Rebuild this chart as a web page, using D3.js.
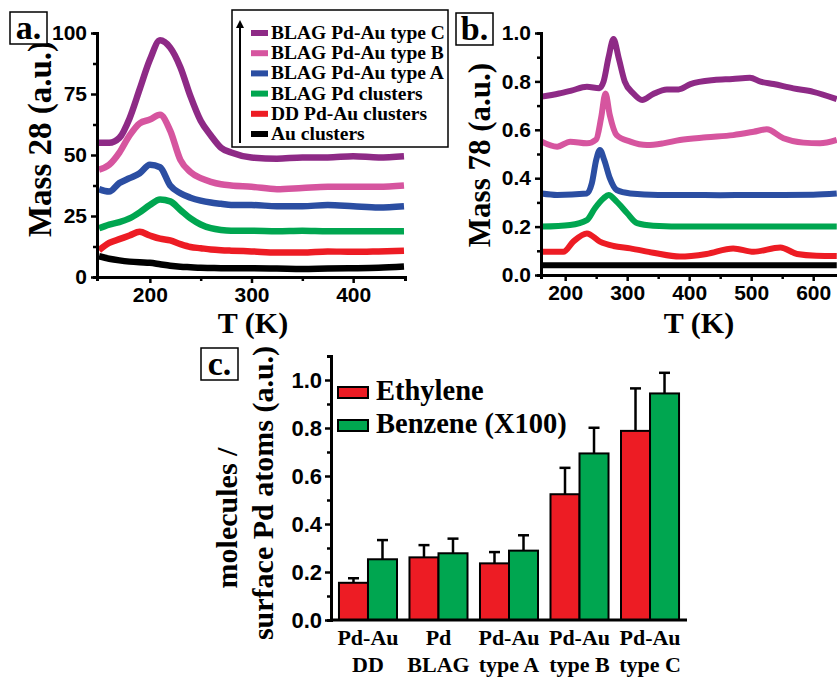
<!DOCTYPE html>
<html lang="en">
<head>
<meta charset="UTF-8">
<title>Mass 28 / Mass 78 TPD and uptake</title>
<script src="https://d3js.org/d3.v7.min.js"></script>
<style>
    body { margin: 0; background: #fff; }
    svg { display: block; }
    .serif { font-family: "Liberation Serif", "Times New Roman", serif; font-weight: bold; }
    .tick text { font-family: "Liberation Sans", Arial, sans-serif; font-weight: bold; }
</style>
</head>
<body>
<script>
// ---- panel a: mass 28 (a.u.) vs T (K)
var tempA = [150, 160, 170, 180, 190, 200, 210, 220, 230, 240, 250, 260, 270, 280, 300, 325, 350, 375, 400, 425, 450];
var m28TypeC = [55, 55, 57, 65, 77, 89, 97, 94, 86, 74, 64, 58, 53, 51, 49, 48.5, 49, 49, 49.5, 49, 49.5];
var m28TypeB = [44, 46, 51, 58, 63, 64.5, 66.5, 60, 48, 43, 40.5, 39, 38, 37.5, 37, 36, 36.5, 37, 37, 37, 37.5];
var m28TypeA = [36, 35, 38.5, 40.5, 42.5, 46, 45, 37.5, 34.3, 32.5, 31.3, 30.5, 30, 29.5, 29.5, 29, 29, 29.5, 29, 28.5, 29];
var m28Pd = [20, 21.5, 22.5, 24, 26.5, 29.5, 31.8, 31, 27.5, 24, 21.5, 20, 19.3, 19, 19, 18.8, 19, 18.8, 18.8, 18.7, 18.8];
var m28DD = [11, 14, 15.5, 17, 18.5, 17, 15.7, 15, 13.5, 12.3, 11.8, 11.3, 11, 10.8, 10.5, 10, 10, 10.5, 10.3, 10.5, 10.8];
var m28Au = [8.5, 7.5, 6.8, 6.3, 6, 5.8, 5.2, 4.6, 4.2, 4, 3.8, 3.7, 3.6, 3.6, 3.6, 3.5, 3.3, 3.5, 3.6, 3.8, 4.3];

// ---- panel b: mass 78 (a.u.) vs T (K)
var tempBC = [162, 190, 210, 235, 255, 262, 270, 278, 286, 296, 310, 324, 342, 364, 383, 402, 440, 470, 498, 515, 536, 568, 600, 638];
var m78TypeC = [0.737, 0.75, 0.762, 0.778, 0.772, 0.80, 0.90, 0.975, 0.90, 0.80, 0.75, 0.723, 0.748, 0.767, 0.767, 0.789, 0.806, 0.81, 0.815, 0.799, 0.789, 0.771, 0.757, 0.727];
var tempBB = [162, 187, 208, 235, 250, 258, 265, 272, 283, 305, 332, 358, 385, 428, 471, 504, 525, 552, 584, 611, 638];
var m78TypeB = [0.551, 0.53, 0.551, 0.544, 0.56, 0.65, 0.75, 0.66, 0.578, 0.551, 0.537, 0.544, 0.558, 0.569, 0.578, 0.592, 0.602, 0.565, 0.547, 0.544, 0.558];
var tempBA = [162, 187, 235, 243, 250, 256, 263, 272, 283, 305, 350, 400, 450, 500, 550, 600, 638];
var m78TypeA = [0.337, 0.331, 0.337, 0.379, 0.475, 0.517, 0.475, 0.40, 0.351, 0.337, 0.331, 0.331, 0.33, 0.331, 0.331, 0.332, 0.337];
var tempBPd = [162, 208, 235, 248, 262, 270, 283, 300, 316, 342, 400, 450, 500, 550, 600, 638];
var m78Pd = [0.20, 0.207, 0.227, 0.276, 0.317, 0.331, 0.303, 0.255, 0.214, 0.204, 0.2, 0.2, 0.2, 0.2, 0.2, 0.2];
var tempBDD = [162, 197, 213, 235, 256, 278, 305, 342, 385, 428, 471, 504, 547, 574, 605, 638];
var m78DD = [0.096, 0.096, 0.138, 0.172, 0.138, 0.12, 0.11, 0.092, 0.076, 0.087, 0.11, 0.096, 0.114, 0.087, 0.08, 0.079];
var tempBAu = [162, 300, 450, 638];
var m78Au = [0.04, 0.04, 0.04, 0.04];

var seriesNames = ["BLAG Pd-Au type C", "BLAG Pd-Au type B", "BLAG Pd-Au type A", "BLAG Pd clusters", "DD Pd-Au clusters", "Au clusters"];
var seriesColors = ["#8e2a86", "#d6559f", "#2b4ea2", "#00a650", "#ed1c24", "#000000"];

// ---- panel c: molecules / surface Pd atoms
var catLine1 = ["Pd-Au", "Pd", "Pd-Au", "Pd-Au", "Pd-Au"];
var catLine2 = ["DD", "BLAG", "type A", "type B", "type C"];
var ethylene = [0.155, 0.261, 0.236, 0.524, 0.788];
var ethyleneErr = [0.019, 0.051, 0.047, 0.11, 0.177];
var benzene = [0.253, 0.278, 0.289, 0.694, 0.944];
var benzeneErr = [0.08, 0.061, 0.064, 0.107, 0.086];

var width = 837, height = 677;
var svg = d3.select("body").append("svg").attr("width", width).attr("height", height);

function pairs(xs, ys) {
    return xs.map(function (x, i) { return [x, ys[i]]; });
}

function styleAxis(g, fontSize) {
    g.select(".domain").attr("stroke", "#000").attr("stroke-width", 3);
    g.selectAll(".tick line").attr("stroke", "#000").attr("stroke-width", 2.5);
    g.selectAll(".tick text").attr("fill", "#000").style("font-size", fontSize + "px");
}

function panelLabel(x, y, txt) {
    svg.append("rect").attr("x", x).attr("y", y).attr("width", 37).attr("height", 32)
        .attr("fill", "#fff").attr("stroke", "#000").attr("stroke-width", 1.5);
    svg.append("text").attr("class", "serif").attr("x", x + 18.5).attr("y", y + 27)
        .attr("text-anchor", "middle").style("font-size", "34px").text(txt);
}

function lineChart(opt) {
    var x = d3.scaleLinear().domain(opt.xDomain).range(opt.xRange);
    var y = d3.scaleLinear().domain(opt.yDomain).range(opt.yRange);
    var line = d3.line().curve(d3.curveMonotoneX)
        .x(function (d) { return x(d[0]); })
        .y(function (d) { return y(d[1]); });

    opt.series.forEach(function (s, i) {
        svg.append("path").datum(s).attr("fill", "none")
            .attr("stroke", seriesColors[i]).attr("stroke-width", opt.lineWidth)
            .attr("stroke-linejoin", "round").attr("d", line);
    });

    var yMinor = svg.append("g").attr("transform", "translate(" + opt.xRange[0] + ",0)")
        .call(d3.axisLeft(y).tickValues(opt.yMinor).tickSize(4).tickFormat(""));
    styleAxis(yMinor, 21);
    var yAx = svg.append("g").attr("transform", "translate(" + opt.xRange[0] + ",0)")
        .call(d3.axisLeft(y).tickValues(opt.yTicks).tickSize(6).tickSizeOuter(0).tickPadding(4).tickFormat(opt.yFormat));
    styleAxis(yAx, 21);

    var xMinor = svg.append("g").attr("transform", "translate(0," + opt.yRange[0] + ")")
        .call(d3.axisBottom(x).tickValues(opt.xMinor).tickSize(4).tickFormat(""));
    styleAxis(xMinor, 21);
    var xAx = svg.append("g").attr("transform", "translate(0," + opt.yRange[0] + ")")
        .call(d3.axisBottom(x).tickValues(opt.xTicks).tickSize(6).tickSizeOuter(0).tickPadding(4));
    styleAxis(xAx, 21);

    svg.append("text").attr("class", "serif")
        .attr("transform", "translate(" + opt.yLabelX + "," + opt.yLabelY + ") rotate(-90)")
        .attr("text-anchor", "middle").style("font-size", opt.yLabelSize + "px").text(opt.yLabel);
    svg.append("text").attr("class", "serif").attr("x", opt.xLabelX).attr("y", 333)
        .attr("text-anchor", "middle").style("font-size", "30px").text("T (K)");
}

// panel a
lineChart({
    xDomain: [148, 451], xRange: [97, 405],
    yDomain: [0, 100], yRange: [277, 33],
    xTicks: [200, 300, 400], xMinor: [250, 350],
    yTicks: [0, 25, 50, 75, 100], yMinor: [12.5, 37.5, 62.5, 87.5],
    yFormat: d3.format("d"),
    lineWidth: 6.5,
    series: [pairs(tempA, m28TypeC), pairs(tempA, m28TypeB), pairs(tempA, m28TypeA),
             pairs(tempA, m28Pd), pairs(tempA, m28DD), pairs(tempA, m28Au)],
    yLabel: "Mass 28 (a.u.)", yLabelX: 51, yLabelY: 139, yLabelSize: 33,
    xLabelX: 253
});

// panel b
lineChart({
    xDomain: [161, 640], xRange: [541, 838],
    yDomain: [0, 1], yRange: [275, 33],
    xTicks: [200, 300, 400, 500, 600], xMinor: [250, 350, 450, 550],
    yTicks: [0, 0.2, 0.4, 0.6, 0.8, 1.0], yMinor: [0.1, 0.3, 0.5, 0.7, 0.9],
    yFormat: d3.format(".1f"),
    lineWidth: 6,
    series: [pairs(tempBC, m78TypeC), pairs(tempBB, m78TypeB), pairs(tempBA, m78TypeA),
             pairs(tempBPd, m78Pd), pairs(tempBDD, m78DD), pairs(tempBAu, m78Au)],
    yLabel: "Mass 78 (a.u.)", yLabelX: 490, yLabelY: 155, yLabelSize: 31,
    xLabelX: 699
});

panelLabel(10, 12, "a.");
panelLabel(456, 13, "b.");
panelLabel(201, 348, "c.");

// legend of panel a
var lg = svg.append("g");
lg.append("rect").attr("x", 232).attr("y", 10).attr("width", 216).attr("height", 137)
    .attr("fill", "#fff").attr("stroke", "#000").attr("stroke-width", 1.5);
svg.append("defs").append("marker").attr("id", "arrow").attr("viewBox", "0 0 10 10")
    .attr("refX", 5).attr("refY", 5).attr("markerWidth", 4).attr("markerHeight", 5)
    .attr("orient", "auto").append("path").attr("d", "M0,0L10,5L0,10Z").attr("fill", "#000");
lg.append("line").attr("x1", 240).attr("y1", 143).attr("x2", 240).attr("y2", 24)
    .attr("stroke", "#000").attr("stroke-width", 2).attr("marker-end", "url(#arrow)");
seriesNames.forEach(function (name, i) {
    var cy = 33 + i * 20.2;
    lg.append("rect").attr("x", 251).attr("y", cy - 3).attr("width", 17).attr("height", 6)
        .attr("fill", seriesColors[i]);
    lg.append("text").attr("class", "serif").attr("x", 271).attr("y", cy + 6)
        .style("font-size", "19.5px").text(name);
});

// panel c: grouped bars
var yc = d3.scaleLinear().domain([0, 1.1]).range([620, 356]);
var xc = d3.scaleBand().domain(d3.range(catLine1.length)).range([331, 687]).paddingInner(0.177).paddingOuter(0.113);
var xSub = d3.scaleBand().domain([0, 1]).range([0, xc.bandwidth()]);
var barSeries = [
    { values: ethylene, err: ethyleneErr, color: "#ed1c24", name: "Ethylene" },
    { values: benzene, err: benzeneErr, color: "#00a650", name: "Benzene (X100)" }
];

barSeries.forEach(function (s, k) {
    var g = svg.append("g");
    s.values.forEach(function (v, i) {
        var bx = xc(i) + xSub(k);
        var cx = bx + xSub.bandwidth() / 2;
        g.append("line").attr("x1", cx).attr("x2", cx).attr("y1", yc(v)).attr("y2", yc(v + s.err[i]))
            .attr("stroke", "#000").attr("stroke-width", 2.5);
        g.append("line").attr("x1", cx - 5.5).attr("x2", cx + 5.5).attr("y1", yc(v + s.err[i])).attr("y2", yc(v + s.err[i]))
            .attr("stroke", "#000").attr("stroke-width", 2.5);
        g.append("rect").attr("x", bx).attr("y", yc(v)).attr("width", xSub.bandwidth()).attr("height", yc(0) - yc(v))
            .attr("fill", s.color).attr("stroke", "#000").attr("stroke-width", 2);
    });
});

var ycMinor = svg.append("g").attr("transform", "translate(331,0)")
    .call(d3.axisLeft(yc).tickValues([0.1, 0.3, 0.5, 0.7, 0.9]).tickSize(4).tickFormat(""));
styleAxis(ycMinor, 22);
var ycAx = svg.append("g").attr("transform", "translate(331,0)")
    .call(d3.axisLeft(yc).tickValues([0, 0.2, 0.4, 0.6, 0.8, 1.0]).tickSize(6).tickSizeOuter(0).tickPadding(3).tickFormat(d3.format(".1f")));
styleAxis(ycAx, 22);
svg.append("line").attr("x1", 331).attr("x2", 687).attr("y1", 620).attr("y2", 620)
    .attr("stroke", "#000").attr("stroke-width", 3);

catLine1.forEach(function (t, i) {
    var cx = xc(i) + xc.bandwidth() / 2;
    svg.append("text").attr("class", "serif").attr("x", cx).attr("y", 645)
        .attr("text-anchor", "middle").style("font-size", "22px").text(t);
    svg.append("text").attr("class", "serif").attr("x", cx).attr("y", 672)
        .attr("text-anchor", "middle").style("font-size", "22px").text(catLine2[i]);
});

barSeries.forEach(function (s, k) {
    var ly = 387 + k * 33;
    svg.append("rect").attr("x", 338).attr("y", ly).attr("width", 30).attr("height", 11)
        .attr("fill", s.color).attr("stroke", "#000").attr("stroke-width", 2);
    svg.append("text").attr("class", "serif").attr("x", 376).attr("y", ly + 13)
        .style("font-size", "28.5px").text(s.name);
});

svg.append("text").attr("class", "serif").attr("transform", "translate(237,518) rotate(-90)")
    .attr("text-anchor", "middle").style("font-size", "30px").text("molecules /");
svg.append("text").attr("class", "serif").attr("transform", "translate(273,493) rotate(-90)")
    .attr("text-anchor", "middle").style("font-size", "30px").text("surface Pd atoms (a.u.)");
</script>
</body>
</html>
